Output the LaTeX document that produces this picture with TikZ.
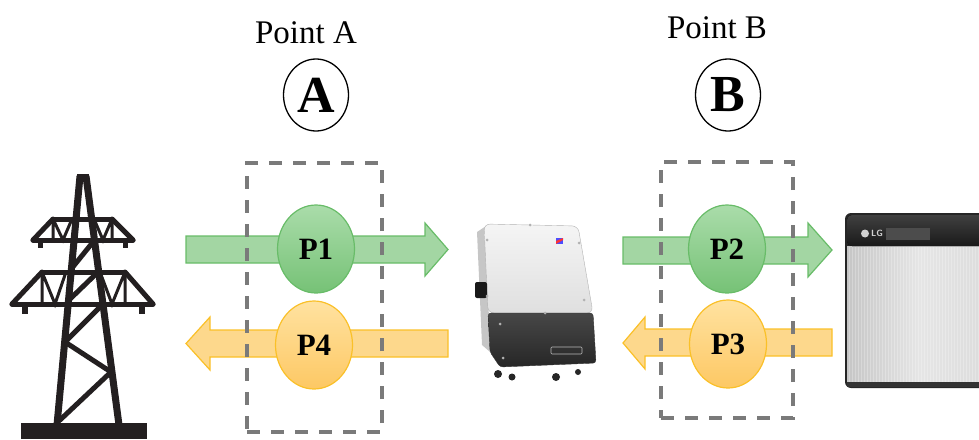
\documentclass[tikz,border=0pt]{standalone}
\usepackage{fontspec}
\setmainfont{Liberation Serif}
\usetikzlibrary{shapes.geometric}

\definecolor{gfill}{RGB}{163,214,163}
\definecolor{gline}{RGB}{104,188,104}
\definecolor{gtop}{RGB}{170,220,170}
\definecolor{gbot}{RGB}{118,194,118}
\definecolor{yfill}{RGB}{253,216,140}
\definecolor{yline}{RGB}{250,192,40}
\definecolor{ytop}{RGB}{255,226,160}
\definecolor{ybot}{RGB}{253,200,100}
\definecolor{boxgray}{RGB}{122,122,122}
\definecolor{towerblk}{RGB}{35,31,32}

\tikzstyle{flowin} = [fill=gfill, draw=gline, line width=1.2pt, line join=miter]
\tikzstyle{flowout} = [fill=yfill, draw=yline, line width=1.2pt, line join=miter]
\tikzstyle{pgreen} = [ellipse, draw=gline, line width=1.2pt, top color=gtop, bottom color=gbot, minimum width=77pt, minimum height=88pt, inner sep=0pt, font=\fontsize{31}{36}\selectfont\bfseries]
\tikzstyle{pyellow} = [ellipse, draw=yline, line width=1.2pt, top color=ytop, bottom color=ybot, minimum width=77pt, minimum height=88pt, inner sep=0pt, font=\fontsize{31}{36}\selectfont\bfseries]
\tikzstyle{meas} = [draw=boxgray, line width=4pt, dash pattern=on 13pt off 11pt]
\tikzstyle{ptlabel} = [anchor=base, inner sep=0pt, font=\fontsize{33}{40}\selectfont]
\tikzstyle{ptcircle} = [ellipse, draw, line width=1.3pt, minimum width=65pt, minimum height=72pt, inner sep=0pt, font=\fontsize{52}{60}\selectfont\bfseries]
\tikzstyle{leg} = [draw=towerblk, line width=7pt]
\tikzstyle{chord} = [draw=towerblk, line width=5pt, line cap=round]
\tikzstyle{truss} = [draw=towerblk, line width=3pt]

\begin{document}
\begin{tikzpicture}[x=1pt, y=-1pt]
      \useasboundingbox (0,0) rectangle (979,439);

      % Pylon
      \draw[leg] (80,176) -- (57,425);
      \draw[leg] (86,176) -- (119,425);
      \fill[towerblk] (77,174) rectangle (89,182);
      % upper cross-arm
      \draw[chord] (53,219) -- (112,219);
      \draw[chord] (33,240) -- (133,240);
      \draw[chord] (53,219) -- (33,240);
      \draw[chord] (112,219) -- (133,240);
      \draw[truss] (53,219) -- (53,240) (53,219) -- (63,240) -- (72,219);
      \draw[truss] (112,219) -- (112,240) (112,219) -- (103,240) -- (94,219);
      \fill[towerblk] (38,238) rectangle (43,248);
      \fill[towerblk] (123,238) rectangle (128,248);
      % lower cross-arm
      \draw[chord] (42,272) -- (125,272);
      \draw[chord] (12,304) -- (153,304);
      \draw[chord] (42,272) -- (12,304);
      \draw[chord] (125,272) -- (153,304);
      \draw[truss] (42,272) -- (42,304) (42,272) -- (55,304) -- (66,272);
      \draw[truss] (125,272) -- (125,304) (125,272) -- (112,304) -- (100,272);
      \fill[towerblk] (22,302) rectangle (28,314);
      \fill[towerblk] (139,302) rectangle (145,314);
      % bracing between the legs
      \draw[chord] (72,268) -- (93,242);
      \draw[chord] (69,300) -- (98,272);
      \draw[chord] (103,304) -- (65,342) -- (111,372) -- (60,420);
      % footing
      \fill[towerblk] (21,423) rectangle (147,439);

      % Inverter
      \fill[gray!45] (477,232) -- (486,226) -- (490,352) -- (482,345) -- cycle;
      \draw[gray!60, top color=gray!8, bottom color=gray!25, rounded corners=6pt]
        (484,224) -- (578,226) -- (593,313) -- (488,313) -- cycle;
      \draw[black!80, top color=black!72, bottom color=black!85, rounded corners=3pt]
        (488,313) -- (593,313) -- (596,363) -- (500,367) -- (490,352) -- cycle;
      \fill[black!90, rounded corners=2pt] (475,282) rectangle (487,298);
      \fill[blue!70] (556,238) rectangle (563,244);
      \fill[red!80] (556,241) -- (563,238) -- (563,240) -- (556,244) -- cycle;
      \foreach \bx/\by in {530/225, 487/240, 579/243, 487/296, 584/300, 545/313, 500/324, 503/358}
        \fill[gray!60] (\bx,\by) circle (1.5pt);
      \draw[gray!55, line width=0.6pt, rounded corners=1pt] (551,347) rectangle (582,354);
      \fill[black!85] (498,374) circle (4pt);
      \fill[black!85] (512,377) circle (3.5pt);
      \fill[black!85] (556,377) circle (4pt);
      \fill[black!85] (578,372) circle (3pt);

      % Battery
      \begin{scope}
        \clip (0,0) rectangle (979,439);
        \fill[black!85, rounded corners=6pt] (845,213) rectangle (990,388);
        \fill[left color=gray!45, right color=gray!28, middle color=gray!20] (847,246) rectangle (990,383);
        \foreach \sx in {849,852,...,978}
          \draw[white, line width=0.5pt, opacity=0.25] (\sx,247) -- (\sx,382);
        \fill[top color=black!75, bottom color=black!90, rounded corners=5pt] (847,215) -- (990,215) -- (990,246) -- (847,246) -- cycle;
        \fill[black!70] (886,228) rectangle (930,240);
        \fill[gray!35] (865,233.5) circle (4pt);
        \node[inner sep=0pt, text=gray!35, font=\sffamily\bfseries\fontsize{9}{10}\selectfont] (lg) at (877,233.5) {LG};
        \fill[black!80] (847,382) rectangle (990,387);
      \end{scope}

      % Power flows
      \path[flowin] (186,236) -- (425,236) -- (425,223) -- (448,249.5) -- (425,276) -- (425,263) -- (186,263) -- cycle;
      \path[flowout] (448,330) -- (210,330) -- (210,317) -- (186,343.5) -- (210,370) -- (210,357) -- (448,357) -- cycle;
      \path[flowin] (623,237) -- (808,237) -- (808,223) -- (832,250) -- (808,277) -- (808,264) -- (623,264) -- cycle;
      \path[flowout] (832,329) -- (645,329) -- (645,317) -- (623,343) -- (645,369) -- (645,356) -- (832,356) -- cycle;

      \node[pgreen] (p1) at (316,249) {P1};
      \node[pyellow] (p4) at (314,345) {P4};
      \node[pgreen] (p2) at (727,249) {P2};
      \node[pyellow] (p3) at (728,344) {P3};

      % Measurement points
      \node[meas, minimum width=135pt, minimum height=269pt] (boxA) at (314.5,297.5) {};
      \node[meas, minimum width=132pt, minimum height=256pt] (boxB) at (727,290) {};

      \node[ptlabel] (ptA) at (306,43) {Point A};
      \node[ptlabel] (ptB) at (717,38) {Point B};
      \node[ptcircle] (cA) at (316,95) {A};
      \node[ptcircle] (cB) at (728,95) {B};
\end{tikzpicture}
\end{document}
